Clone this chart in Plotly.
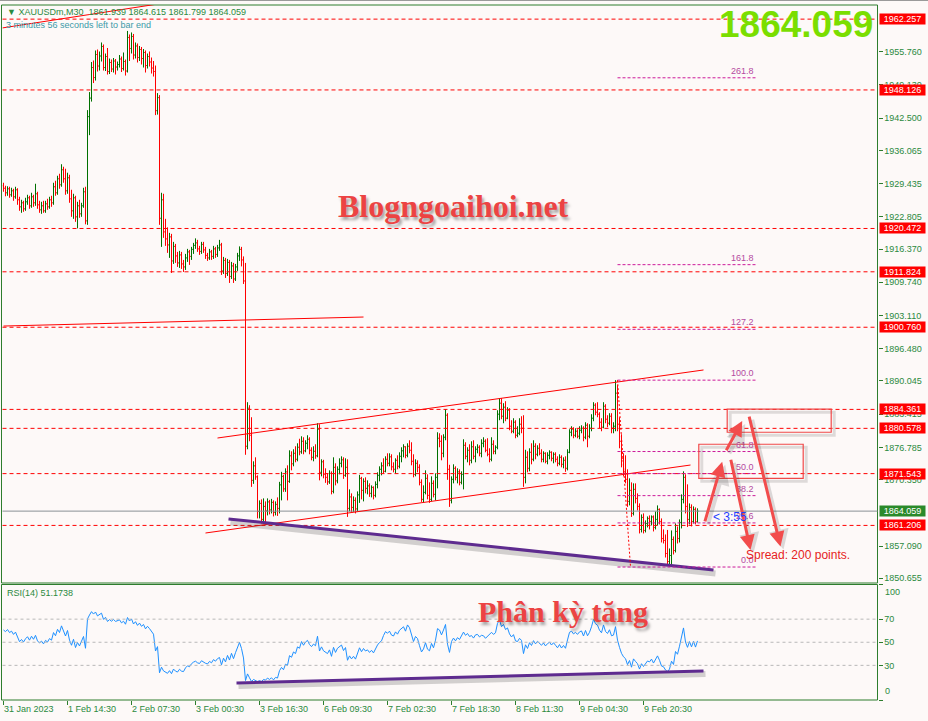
import plotly.graph_objects as go

# ---------------- data (XAUUSDm, M30) ----------------
opens = [
    1929.0, 1928.5, 1927.6, 1928.4, 1927.2, 1928.0, 1926.8, 1928.2, 1926.2, 1924.8,
    1925.6, 1924.4, 1925.8, 1926.6, 1925.0, 1926.8, 1925.6, 1927.4, 1925.2, 1924.2,
    1925.0, 1924.0, 1925.4, 1924.8, 1926.2, 1925.6, 1928.8, 1927.6, 1930.4, 1929.2,
    1932.2, 1930.4, 1928.0, 1930.6, 1926.4, 1924.0, 1926.6, 1922.8, 1925.0, 1923.4,
    1925.0, 1927.8, 1922.0, 1942.8, 1946.5, 1952.6, 1950.6, 1955.2, 1952.9, 1954.9,
    1956.8, 1952.6, 1954.8, 1951.8, 1953.6, 1952.3, 1953.9, 1952.7, 1953.2, 1954.3,
    1952.4, 1953.8, 1951.9, 1958.6, 1956.4, 1958.8, 1955.1, 1956.9, 1954.6, 1956.2,
    1954.4, 1955.6, 1953.0, 1954.8, 1953.7, 1952.5, 1951.8, 1944.0, 1946.6, 1922.5,
    1926.2, 1919.8, 1918.4, 1917.2, 1918.8, 1914.0, 1916.9, 1915.0, 1913.6, 1915.2,
    1913.4, 1912.8, 1914.6, 1915.8, 1914.9, 1916.3, 1917.1, 1917.6, 1916.4, 1915.9,
    1917.3, 1916.2, 1915.1, 1914.6, 1915.8, 1914.9, 1916.4, 1915.3, 1916.6, 1917.2,
    1912.0, 1914.1, 1911.5, 1913.7, 1910.9, 1913.0, 1910.4, 1912.8, 1915.0, 1916.3,
    1914.2, 1910.0, 1877.0, 1884.6, 1879.2, 1870.2, 1873.1, 1870.9, 1864.0, 1865.6,
    1862.4, 1865.0, 1864.1, 1865.9, 1864.3, 1865.8, 1863.8, 1865.4, 1864.6, 1869.3,
    1871.0, 1868.5, 1871.9, 1870.0, 1875.1, 1873.5, 1875.6, 1874.4, 1876.8, 1875.9,
    1878.0, 1876.1, 1877.6, 1878.4, 1876.2, 1874.8, 1876.0, 1875.1, 1880.4, 1871.8,
    1873.9, 1871.4, 1870.8, 1869.9, 1871.6, 1868.0, 1872.8, 1870.1, 1872.4, 1873.6,
    1874.3, 1871.2, 1872.8, 1864.6, 1866.9, 1864.8, 1866.2, 1864.5, 1867.3, 1870.6,
    1868.2, 1870.0, 1868.6, 1869.1, 1867.6, 1868.8, 1867.2, 1869.4, 1871.2, 1872.4,
    1873.1, 1872.0, 1874.4, 1873.6, 1874.9, 1872.9, 1872.4, 1874.2, 1873.0, 1875.0,
    1876.1, 1876.9, 1875.2, 1877.0, 1876.2, 1874.0, 1871.4, 1873.6, 1872.8, 1869.8,
    1866.4, 1867.8, 1870.6, 1867.2, 1866.4, 1869.6, 1867.4, 1870.8, 1878.6, 1878.0,
    1875.6, 1878.8, 1883.2, 1872.4, 1866.2, 1870.4, 1872.6, 1870.8, 1871.9, 1869.8,
    1871.4, 1877.2, 1875.0, 1876.2, 1874.2, 1876.9, 1875.0, 1876.4, 1876.8, 1875.6,
    1877.6, 1878.0, 1876.2, 1875.4, 1874.4, 1877.4, 1876.0, 1876.8, 1883.4, 1885.6,
    1883.0, 1884.8, 1882.6, 1884.2, 1881.0, 1880.0, 1881.8, 1879.2, 1879.6, 1881.4,
    1880.6, 1870.8, 1874.8, 1872.6, 1875.8, 1874.4, 1877.0, 1875.4, 1876.6, 1875.6,
    1874.4, 1875.6, 1874.0, 1875.2, 1875.8, 1874.6, 1875.4, 1874.4, 1873.6, 1874.8,
    1873.4, 1874.2, 1872.6, 1875.8, 1879.8, 1880.4, 1879.2, 1880.0, 1879.0, 1880.2,
    1880.6, 1878.8, 1881.2, 1879.0, 1880.6, 1882.6, 1885.2, 1883.8, 1883.4, 1881.8,
    1880.8, 1885.0, 1882.4, 1881.6, 1883.0, 1880.6, 1881.0, 1887.6, 1881.4, 1878.0,
    1874.6, 1872.0, 1870.4, 1866.0, 1868.2, 1863.6, 1868.4, 1866.6, 1865.0, 1860.4,
    1862.8, 1860.2, 1861.6, 1862.6, 1862.0, 1862.9, 1860.8, 1862.4, 1864.4, 1862.0,
    1858.6, 1858.2, 1855.6, 1854.0, 1855.2, 1858.4, 1856.2, 1860.0, 1858.6, 1861.8,
    1866.4, 1870.8, 1865.0, 1862.4, 1864.8, 1862.0, 1864.4, 1861.939,
]
highs = [
    1929.6, 1929.0, 1928.9, 1928.8, 1928.6, 1928.4, 1928.8, 1928.5, 1926.8, 1926.2,
    1926.0, 1926.6, 1927.2, 1927.0, 1927.6, 1927.2, 1929.4, 1927.8, 1926.0, 1925.8,
    1926.0, 1926.0, 1926.4, 1926.8, 1927.0, 1929.6, 1930.0, 1931.0, 1931.4, 1933.3,
    1932.8, 1932.4, 1931.6, 1931.2, 1928.2, 1927.4, 1927.0, 1925.8, 1926.2, 1925.6,
    1928.6, 1928.8, 1944.1, 1947.7, 1953.7, 1954.0, 1956.0, 1956.2, 1955.8, 1957.6,
    1957.2, 1955.4, 1956.5, 1954.4, 1954.2, 1954.5, 1954.3, 1953.8, 1955.1, 1954.8,
    1955.6, 1954.2, 1959.9, 1959.2, 1959.6, 1959.3, 1957.6, 1957.4, 1956.9, 1956.7,
    1956.3, 1956.0, 1955.4, 1955.8, 1954.6, 1953.9, 1953.0, 1947.5, 1947.1, 1927.6,
    1927.4, 1922.4, 1920.7, 1919.6, 1919.4, 1917.8, 1917.4, 1915.8, 1916.0, 1915.8,
    1914.2, 1915.4, 1916.4, 1916.2, 1916.8, 1917.6, 1918.5, 1918.2, 1917.0, 1917.8,
    1917.8, 1916.8, 1915.6, 1916.4, 1916.2, 1917.0, 1916.8, 1917.2, 1918.2, 1917.6,
    1914.8, 1914.6, 1914.4, 1914.2, 1913.8, 1913.6, 1913.4, 1915.6, 1916.9, 1916.8,
    1914.9, 1913.6, 1885.8, 1885.2, 1882.8, 1874.0, 1874.8, 1871.2, 1866.2, 1866.4,
    1866.6, 1866.0, 1866.6, 1866.3, 1866.5, 1866.2, 1866.0, 1866.8, 1869.9, 1871.9,
    1871.3, 1872.6, 1873.2, 1876.2, 1876.0, 1876.4, 1877.0, 1877.6, 1878.5, 1879.0,
    1878.8, 1878.2, 1879.2, 1878.8, 1876.8, 1877.0, 1877.4, 1881.6, 1881.4, 1874.4,
    1874.3, 1872.6, 1871.6, 1872.2, 1872.0, 1874.8, 1873.6, 1873.0, 1874.6, 1875.0,
    1874.8, 1874.6, 1874.4, 1868.4, 1867.6, 1867.0, 1866.8, 1868.0, 1871.3, 1870.9,
    1870.6, 1870.8, 1870.2, 1869.6, 1869.2, 1869.0, 1870.0, 1871.8, 1873.0, 1873.8,
    1874.6, 1875.0, 1875.6, 1875.6, 1875.4, 1873.8, 1874.6, 1875.2, 1875.8, 1876.8,
    1877.4, 1877.0, 1877.6, 1878.2, 1877.8, 1875.4, 1874.4, 1874.2, 1873.4, 1870.4,
    1869.2, 1872.2, 1871.4, 1869.8, 1871.0, 1870.2, 1871.6, 1879.8, 1879.6, 1879.2,
    1879.4, 1884.4, 1883.6, 1873.3, 1871.0, 1873.4, 1873.0, 1872.6, 1872.4, 1872.0,
    1878.4, 1877.8, 1876.8, 1877.4, 1878.0, 1878.2, 1877.0, 1877.4, 1877.2, 1878.4,
    1878.8, 1878.4, 1878.6, 1876.6, 1878.8, 1878.2, 1877.2, 1884.2, 1886.6, 1886.6,
    1885.6, 1886.0, 1884.8, 1884.6, 1882.2, 1882.6, 1882.2, 1881.0, 1882.6, 1883.0,
    1883.2, 1876.3, 1876.0, 1876.6, 1877.6, 1878.2, 1877.6, 1877.2, 1877.6, 1876.4,
    1876.0, 1875.8, 1875.8, 1876.2, 1876.0, 1875.8, 1875.8, 1875.0, 1875.4, 1875.2,
    1874.8, 1875.0, 1876.4, 1880.4, 1881.0, 1880.8, 1880.6, 1880.4, 1881.0, 1881.2,
    1881.0, 1881.8, 1881.6, 1881.4, 1883.4, 1885.8, 1885.6, 1885.8, 1883.8, 1882.6,
    1885.8, 1885.4, 1883.2, 1883.6, 1883.6, 1881.8, 1890.2, 1889.2, 1882.8, 1879.4,
    1875.6, 1875.2, 1872.4, 1870.6, 1869.8, 1869.6, 1869.6, 1867.6, 1865.6, 1863.4,
    1863.6, 1862.2, 1863.0, 1863.2, 1863.2, 1863.2, 1864.0, 1865.2, 1864.6, 1862.6,
    1860.4, 1859.4, 1860.3, 1856.6, 1860.2, 1859.0, 1861.6, 1861.0, 1862.4, 1867.4,
    1872.0, 1871.4, 1869.4, 1865.6, 1865.4, 1865.0, 1864.8, 1864.615,
]
lows = [
    1927.8, 1926.9, 1927.0, 1926.6, 1926.8, 1926.0, 1926.4, 1925.2, 1924.0, 1923.6,
    1923.8, 1924.0, 1925.2, 1924.4, 1924.6, 1924.8, 1925.0, 1924.4, 1923.6, 1923.4,
    1923.6, 1923.6, 1924.2, 1924.4, 1924.8, 1925.2, 1927.0, 1927.2, 1928.4, 1928.8,
    1929.6, 1927.2, 1927.4, 1925.6, 1922.8, 1922.4, 1921.8, 1920.5, 1922.6, 1922.8,
    1924.6, 1921.3, 1921.2, 1939.1, 1945.8, 1949.5, 1950.0, 1951.8, 1952.0, 1953.8,
    1952.0, 1951.9, 1951.2, 1951.3, 1951.7, 1951.6, 1951.2, 1952.0, 1952.6, 1951.7,
    1952.0, 1951.0, 1951.6, 1953.9, 1955.4, 1954.2, 1954.4, 1953.6, 1953.9, 1953.2,
    1952.6, 1951.6, 1952.4, 1952.8, 1951.4, 1950.8, 1943.1, 1943.2, 1921.2, 1916.8,
    1918.6, 1917.0, 1915.6, 1914.6, 1911.6, 1913.4, 1913.6, 1912.8, 1912.6, 1912.4,
    1911.8, 1912.2, 1913.8, 1913.2, 1914.2, 1915.4, 1916.4, 1915.8, 1915.2, 1915.4,
    1915.6, 1914.4, 1914.0, 1914.2, 1914.2, 1914.4, 1914.6, 1914.8, 1916.0, 1911.2,
    1911.4, 1910.6, 1911.0, 1909.6, 1910.4, 1909.6, 1910.0, 1912.0, 1914.0, 1912.9,
    1909.4, 1875.3, 1876.4, 1878.0, 1868.9, 1869.5, 1870.3, 1862.6, 1862.6, 1861.6,
    1861.6, 1861.8, 1863.2, 1863.4, 1863.6, 1863.0, 1863.2, 1863.1, 1863.6, 1866.2,
    1867.9, 1867.9, 1866.2, 1869.7, 1872.2, 1873.0, 1873.8, 1874.0, 1875.2, 1875.5,
    1875.4, 1875.8, 1876.4, 1875.4, 1874.2, 1874.0, 1874.5, 1874.8, 1870.2, 1871.0,
    1870.6, 1869.7, 1869.3, 1869.5, 1867.4, 1867.6, 1869.2, 1869.6, 1871.4, 1872.8,
    1870.5, 1870.9, 1862.9, 1864.0, 1863.8, 1863.9, 1863.6, 1864.0, 1865.7, 1866.4,
    1866.0, 1867.6, 1867.4, 1866.9, 1866.8, 1866.4, 1866.8, 1868.6, 1870.0, 1871.2,
    1871.6, 1871.8, 1873.0, 1873.0, 1872.2, 1871.8, 1871.6, 1872.4, 1872.6, 1873.8,
    1874.8, 1874.6, 1874.8, 1875.6, 1873.2, 1870.8, 1871.0, 1871.8, 1869.2, 1865.9,
    1865.7, 1867.4, 1866.4, 1865.7, 1866.0, 1866.8, 1866.2, 1868.6, 1876.8, 1874.2,
    1874.8, 1878.2, 1870.3, 1864.9, 1865.6, 1869.6, 1870.2, 1869.6, 1869.2, 1869.4,
    1868.4, 1874.4, 1873.8, 1873.2, 1873.6, 1874.4, 1873.8, 1875.6, 1875.0, 1874.8,
    1876.8, 1875.8, 1875.0, 1873.8, 1874.0, 1875.4, 1875.4, 1876.4, 1882.2, 1882.4,
    1881.6, 1882.0, 1882.4, 1880.2, 1879.6, 1879.6, 1878.6, 1878.8, 1879.2, 1879.6,
    1868.9, 1869.6, 1871.8, 1872.0, 1873.4, 1874.0, 1874.4, 1875.0, 1875.2, 1873.8,
    1873.8, 1873.6, 1873.4, 1874.4, 1874.0, 1873.6, 1873.8, 1873.0, 1873.2, 1872.8,
    1872.6, 1871.9, 1872.2, 1875.6, 1879.0, 1878.6, 1878.8, 1878.6, 1878.4, 1879.6,
    1878.0, 1878.4, 1876.8, 1878.6, 1880.0, 1882.0, 1883.2, 1882.8, 1880.6, 1880.0,
    1880.6, 1881.6, 1880.8, 1881.2, 1879.6, 1879.6, 1880.0, 1880.0, 1876.6, 1872.8,
    1871.0, 1869.6, 1864.9, 1865.2, 1862.9, 1863.2, 1865.6, 1864.2, 1859.6, 1859.8,
    1859.6, 1859.8, 1860.8, 1860.4, 1861.2, 1860.0, 1860.4, 1861.2, 1861.4, 1857.8,
    1857.6, 1854.8, 1853.2, 1853.0, 1852.9, 1855.4, 1855.8, 1857.6, 1857.8, 1860.6,
    1865.6, 1863.6, 1860.9, 1861.4, 1861.0, 1861.6, 1861.4, 1861.799,
]
closes = [
    1928.5, 1927.6, 1928.4, 1927.2, 1928.0, 1926.8, 1928.2, 1926.2, 1924.8, 1925.6,
    1924.4, 1925.8, 1926.6, 1925.0, 1926.8, 1925.6, 1927.4, 1925.2, 1924.2, 1925.0,
    1924.0, 1925.4, 1924.8, 1926.2, 1925.6, 1928.8, 1927.6, 1930.4, 1929.2, 1932.2,
    1930.4, 1928.0, 1930.6, 1926.4, 1924.0, 1926.6, 1922.8, 1925.0, 1923.4, 1925.0,
    1927.8, 1922.0, 1942.8, 1946.5, 1952.6, 1950.6, 1955.2, 1952.9, 1954.9, 1956.8,
    1952.6, 1954.8, 1951.8, 1953.6, 1952.3, 1953.9, 1952.7, 1953.2, 1954.3, 1952.4,
    1953.8, 1951.9, 1958.6, 1956.4, 1958.8, 1955.1, 1956.9, 1954.6, 1956.2, 1954.4,
    1955.6, 1953.0, 1954.8, 1953.7, 1952.5, 1951.8, 1944.0, 1946.6, 1922.5, 1926.2,
    1919.8, 1918.4, 1917.2, 1918.8, 1914.0, 1916.9, 1915.0, 1913.6, 1915.2, 1913.4,
    1912.8, 1914.6, 1915.8, 1914.9, 1916.3, 1917.1, 1917.6, 1916.4, 1915.9, 1917.3,
    1916.2, 1915.1, 1914.6, 1915.8, 1914.9, 1916.4, 1915.3, 1916.6, 1917.2, 1912.0,
    1914.1, 1911.5, 1913.7, 1910.9, 1913.0, 1910.4, 1912.8, 1915.0, 1916.3, 1914.2,
    1910.0, 1877.0, 1884.6, 1879.2, 1870.2, 1873.1, 1870.9, 1864.0, 1865.6, 1862.4,
    1865.0, 1864.1, 1865.9, 1864.3, 1865.8, 1863.8, 1865.4, 1864.6, 1869.3, 1871.0,
    1868.5, 1871.9, 1870.0, 1875.1, 1873.5, 1875.6, 1874.4, 1876.8, 1875.9, 1878.0,
    1876.1, 1877.6, 1878.4, 1876.2, 1874.8, 1876.0, 1875.1, 1880.4, 1871.8, 1873.9,
    1871.4, 1870.8, 1869.9, 1871.6, 1868.0, 1872.8, 1870.1, 1872.4, 1873.6, 1874.3,
    1871.2, 1872.8, 1864.6, 1866.9, 1864.8, 1866.2, 1864.5, 1867.3, 1870.6, 1868.2,
    1870.0, 1868.6, 1869.1, 1867.6, 1868.8, 1867.2, 1869.4, 1871.2, 1872.4, 1873.1,
    1872.0, 1874.4, 1873.6, 1874.9, 1872.9, 1872.4, 1874.2, 1873.0, 1875.0, 1876.1,
    1876.9, 1875.2, 1877.0, 1876.2, 1874.0, 1871.4, 1873.6, 1872.8, 1869.8, 1866.4,
    1867.8, 1870.6, 1867.2, 1866.4, 1869.6, 1867.4, 1870.8, 1878.6, 1878.0, 1875.6,
    1878.8, 1883.2, 1872.4, 1866.2, 1870.4, 1872.6, 1870.8, 1871.9, 1869.8, 1871.4,
    1877.2, 1875.0, 1876.2, 1874.2, 1876.9, 1875.0, 1876.4, 1876.8, 1875.6, 1877.6,
    1878.0, 1876.2, 1875.4, 1874.4, 1877.4, 1876.0, 1876.8, 1883.4, 1885.6, 1883.0,
    1884.8, 1882.6, 1884.2, 1881.0, 1880.0, 1881.8, 1879.2, 1879.6, 1881.4, 1880.6,
    1870.8, 1874.8, 1872.6, 1875.8, 1874.4, 1877.0, 1875.4, 1876.6, 1875.6, 1874.4,
    1875.6, 1874.0, 1875.2, 1875.8, 1874.6, 1875.4, 1874.4, 1873.6, 1874.8, 1873.4,
    1874.2, 1872.6, 1875.8, 1879.8, 1880.4, 1879.2, 1880.0, 1879.0, 1880.2, 1880.6,
    1878.8, 1881.2, 1879.0, 1880.6, 1882.6, 1885.2, 1883.8, 1883.4, 1881.8, 1880.8,
    1885.0, 1882.4, 1881.6, 1883.0, 1880.6, 1881.0, 1887.6, 1881.4, 1878.0, 1874.6,
    1872.0, 1870.4, 1866.0, 1868.2, 1863.6, 1868.4, 1866.6, 1865.0, 1860.4, 1862.8,
    1860.2, 1861.6, 1862.6, 1862.0, 1862.9, 1860.8, 1862.4, 1864.4, 1862.0, 1858.6,
    1858.2, 1855.6, 1854.0, 1855.2, 1858.4, 1856.2, 1860.0, 1858.6, 1861.8, 1866.4,
    1870.8, 1865.0, 1862.4, 1864.8, 1862.0, 1864.4, 1861.9, 1864.059,
]
rsi_values = [
    60.6, 59.2, 61.0, 58.4, 59.6, 56.8, 58.8, 54.6, 50.5, 52.4,
    50.2, 53.0, 54.8, 51.8, 55.2, 52.6, 56.0, 51.2, 49.4, 51.0,
    48.6, 51.6, 50.2, 53.2, 51.8, 58.4, 55.6, 61.2, 58.4, 64.2,
    60.4, 55.4, 60.2, 51.8, 47.4, 52.6, 45.4, 49.8, 46.8, 50.2,
    55.0, 44.8, 70.2, 73.6, 76.5, 74.4, 76.2, 72.8, 74.0, 75.2,
    69.8, 71.6, 68.0, 69.6, 68.2, 69.8, 68.0, 68.6, 69.4, 66.8,
    68.2, 65.6, 71.4, 68.4, 70.2, 65.8, 67.8, 64.6, 66.6, 63.8,
    65.4, 61.6, 63.8, 61.8, 59.4, 57.0, 42.4, 46.2, 23.6, 28.4,
    25.2, 24.0, 23.1, 25.4, 22.8, 26.8, 25.0, 24.2, 26.6, 25.0,
    24.6, 27.8, 29.6, 28.8, 31.4, 32.8, 33.6, 32.2, 31.6, 34.0,
    32.8, 31.8, 31.2, 33.4, 32.2, 35.0, 33.6, 35.8, 36.8, 30.4,
    36.2, 33.0, 38.6, 34.6, 40.4, 35.8, 41.0, 45.2, 49.9, 44.6,
    36.4, 16.8, 22.6, 19.2, 16.0, 17.8, 16.6, 15.9, 16.8, 15.9,
    17.8, 17.2, 19.0, 17.8, 19.2, 17.4, 19.6, 19.0, 25.4, 28.2,
    26.2, 31.0, 30.0, 38.4, 37.0, 41.6, 40.2, 46.0, 44.8, 50.6,
    47.4, 50.2, 51.6, 48.0, 46.2, 48.4, 47.0, 55.2, 42.4, 46.0,
    42.6, 41.6, 40.2, 43.4, 37.8, 45.6, 41.2, 44.8, 46.6, 47.6,
    42.8, 45.4, 34.4, 38.2, 35.6, 37.8, 35.4, 40.0, 45.2, 41.8,
    44.6, 42.4, 43.4, 41.2, 43.0, 40.8, 44.6, 47.6, 49.8, 51.2,
    55.8, 59.2, 57.8, 59.6, 56.2, 55.4, 59.0, 57.0, 60.4, 62.0,
    63.4, 59.6, 65.0, 62.6, 57.0, 50.6, 55.0, 53.2, 47.0, 41.6,
    44.2, 49.6, 44.0, 42.6, 49.0, 45.2, 51.8, 61.8, 60.6, 56.4,
    60.6, 65.4, 48.4, 41.2, 50.6, 53.6, 51.2, 54.0, 52.4, 56.2,
    58.8, 56.0, 57.6, 55.0, 55.8, 53.6, 56.4, 56.8, 54.6, 56.0,
    55.6, 53.4, 55.0, 57.4, 58.6, 56.8, 58.2, 66.4, 69.3, 63.5,
    65.4, 61.0, 62.4, 57.2, 54.6, 56.6, 51.2, 50.6, 53.4, 51.6,
    40.2, 47.8, 44.6, 49.6, 47.2, 51.4, 48.6, 50.8, 49.2, 47.4,
    49.4, 46.8, 48.8, 50.0, 47.6, 49.6, 47.4, 45.2, 48.0, 45.0,
    47.2, 44.8, 52.0, 58.6, 59.6, 57.2, 58.6, 56.8, 59.0, 59.8,
    55.4, 60.2, 55.6, 58.6, 63.4, 69.8, 66.0, 64.8, 60.4, 58.2,
    65.0, 59.4, 57.6, 60.8, 55.6, 56.2, 63.5, 51.8, 45.6, 40.4,
    37.4, 35.8, 30.6, 34.2, 28.4, 35.6, 33.4, 31.4, 26.8, 31.4,
    29.0, 31.8, 33.8, 33.0, 35.4, 32.0, 34.8, 38.2, 34.4, 29.4,
    28.8, 26.0, 24.5, 26.8, 33.6, 30.8, 42.0, 39.6, 46.6, 55.8,
    62.4, 50.2, 45.6, 50.6, 46.0, 50.8, 45.8, 51.17,
]
time_labels = ["31 Jan 2023", "1 Feb 14:30", "2 Feb 07:30", "3 Feb 00:30",
               "3 Feb 16:30", "6 Feb 09:30", "7 Feb 02:30", "7 Feb 18:30",
               "8 Feb 11:30", "9 Feb 04:30", "9 Feb 20:30"]
price_ticks = [1955.760, 1949.130, 1942.500, 1936.065, 1929.435, 1922.805,
               1916.370, 1909.740, 1903.110, 1896.480, 1890.045, 1883.415,
               1876.785, 1870.350, 1857.090, 1850.655]
level_prices = [1962.257, 1948.126, 1920.472, 1911.824, 1900.760,
                1884.361, 1880.578, 1871.543, 1861.206]
last_price = 1864.059
rsi_levels = [30, 50, 70]
fib_ratios = [0.0, 23.6, 38.2, 50.0, 61.8, 100.0, 127.2, 161.8, 261.8]
fib_low, fib_high = 1852.9, 1890.2

# ---------------- look ----------------
W, H = 928, 721
BG = "#fdf9f8"
FG = "#2b8a3e"
FRAME = "#2d7d2d"
RED = "#ff0000"
UP = "#007000"
FONT = "Liberation Sans, Arial, sans-serif"
SERIF = "Liberation Serif, Times New Roman, serif"


def px_x(p):
    return p / W


def px_y(p):
    return 1 - p / H


x_dom = [px_x(2.5), px_x(877.5)]
main_dom = [px_y(583), px_y(5)]
rsi_dom = [px_y(700), px_y(584.5)]
bars = list(range(len(closes)))
label_bars = [32 * k for k in range(len(time_labels))]

# MT4-style bars: high-low stick, open tick left, close tick right
up_x, up_y, dn_x, dn_y = [], [], [], []
for i, o, h, l, c in zip(bars, opens, highs, lows, closes):
    xs = [i, i, None, i - 0.5, i, None, i, i + 0.5, None]
    ys = [l, h, None, o, o, None, c, c, None]
    if c >= o:
        up_x += xs
        up_y += ys
    else:
        dn_x += xs
        dn_y += ys

fig = go.Figure()
fig.add_trace(go.Scatter(x=up_x, y=up_y, mode="lines", xaxis="x", yaxis="y",
                         line=dict(color=UP, width=1), hoverinfo="skip"))
fig.add_trace(go.Scatter(x=dn_x, y=dn_y, mode="lines", xaxis="x", yaxis="y",
                         line=dict(color=RED, width=1), hoverinfo="skip"))
fig.add_trace(go.Scatter(x=bars, y=rsi_values, mode="lines", xaxis="x", yaxis="y2",
                         line=dict(color="#1e90ff", width=1), hoverinfo="skip"))

shapes = []
# panel frames
for dom in (main_dom, rsi_dom):
    shapes.append(dict(type="rect", xref="paper", yref="paper",
                       x0=px_x(1.5), x1=px_x(877.5), y0=dom[0], y1=dom[1],
                       line=dict(color=FRAME, width=1), layer="above"))
shapes.append(dict(type="line", xref="paper", yref="paper", x0=0, x1=1,
                   y0=px_y(0.5), y1=px_y(0.5), line=dict(color="#9a9a9a", width=1)))

# horizontal levels
for p in level_prices:
    shapes.append(dict(type="line", xref="paper", yref="y", x0=x_dom[0], x1=x_dom[1],
                       y0=p, y1=p, line=dict(color=RED, width=1, dash="4px,3px")))
shapes.append(dict(type="line", xref="paper", yref="y", x0=x_dom[0], x1=x_dom[1],
                   y0=last_price, y1=last_price, line=dict(color="#8a9096", width=1)))
for lv in rsi_levels:
    shapes.append(dict(type="line", xref="paper", yref="y2", x0=x_dom[0], x1=x_dom[1],
                       y0=lv, y1=lv, line=dict(color="#b8b8b8", width=1, dash="3px,3px")))

# red trend lines / channel
for x0, y0, x1, y1 in [(107, 1878.65, 350, 1892.23), (101, 1859.69, 343.5, 1873.26),
                       (0, 1901.0, 180, 1902.8), (-0.6, 1960.5, 77.5, 1965.3)]:
    shapes.append(dict(type="line", xref="x", yref="y", x0=x0, y0=y0, x1=x1, y1=y1,
                       line=dict(color=RED, width=1)))

# purple divergence lines with soft shadow
shapes.append(dict(type="line", xref="x", yref="y", x0=113.5, y0=1861.8, x1=356, y1=1851.6,
                   line=dict(color="rgba(60,60,60,0.22)", width=6)))
shapes.append(dict(type="line", xref="x", yref="y", x0=112.5, y0=1862.5, x1=355, y1=1852.3,
                   line=dict(color="#5e2b8f", width=3)))
shapes.append(dict(type="line", xref="x", yref="y2", x0=117.5, y0=12.2, x1=351, y1=22.5,
                   line=dict(color="rgba(60,60,60,0.22)", width=6)))
shapes.append(dict(type="line", xref="x", yref="y2", x0=116.5, y0=14.7, x1=350, y1=25.1,
                   line=dict(color="#5e2b8f", width=3)))

# fibonacci levels
fib_color = "#cc1a9a"
for r in fib_ratios:
    p = fib_low + (fib_high - fib_low) * r / 100
    shapes.append(dict(type="line", xref="x", yref="y", x0=307, x1=376.5, y0=p, y1=p,
                       line=dict(color=fib_color, width=1, dash="3px,2px")))
shapes.append(dict(type="line", xref="x", yref="y", x0=307, y0=fib_high, x1=313.5, y1=fib_low,
                   line=dict(color=RED, width=1, dash="2px,2px")))

# target boxes with shadow
for x0, x1, y0, y1 in [(361.85, 413.85, 1879.8, 1884.4), (347.65, 399.85, 1870.6, 1877.4)]:
    shapes.append(dict(type="rect", xref="x", yref="y", x0=x0 + 1.5, x1=x1 + 1.5,
                       y0=y0 - 0.6, y1=y1 - 0.6, line=dict(color="rgba(0,0,0,0.12)", width=3)))
    shapes.append(dict(type="rect", xref="x", yref="y", x0=x0, x1=x1, y0=y0, y1=y1,
                       line=dict(color="#f04848", width=1.2)))

ann = []
# price axis labels for levels
for p in level_prices:
    ann.append(dict(xref="paper", yref="y", x=px_x(878.5), y=p, xanchor="left",
                    yanchor="middle", text=f"{p:.3f}", showarrow=False, bgcolor=RED,
                    width=44, height=9, borderpad=0.5,
                    font=dict(family=FONT, size=9, color="white")))
ann.append(dict(xref="paper", yref="y", x=px_x(878.5), y=last_price, xanchor="left",
                yanchor="middle", text=f"{last_price:.3f}", showarrow=False,
                bgcolor="#2a8a2a", width=44, height=9, borderpad=0.5,
                font=dict(family=FONT, size=9, color="white")))

# fib labels
for r in fib_ratios:
    p = fib_low + (fib_high - fib_low) * r / 100
    ann.append(dict(xref="x", yref="y", x=376, y=p, xanchor="right", yanchor="bottom",
                    text=f"{r:.1f}", showarrow=False,
                    font=dict(family=FONT, size=9, color="#b44aa0")))

# arrows with shadows
arrows = [((350.5, 1861.7), (359.35, 1873.9)), ((361.0, 1875.9), (369.35, 1882.05)),
          ((363.5, 1874.6), (373.5, 1856.3)), ((372.65, 1883.2), (388.5, 1857.0))]
for (tx, ty), (hx, hy) in arrows:
    ann.append(dict(xref="x", yref="y", axref="x", ayref="y", x=hx + 1.5, y=hy - 0.6,
                    ax=tx + 1.5, ay=ty - 0.6, text="", showarrow=True, arrowhead=2,
                    arrowsize=1, arrowwidth=4, arrowcolor="rgba(0,0,0,0.13)"))
for (tx, ty), (hx, hy) in arrows:
    ann.append(dict(xref="x", yref="y", axref="x", ayref="y", x=hx, y=hy, ax=tx, ay=ty,
                    text="", showarrow=True, arrowhead=2, arrowsize=1, arrowwidth=3,
                    arrowcolor="#f24c4c"))

ann.append(dict(xref="x", yref="y", x=370, y=1855.3, xanchor="left", yanchor="middle",
                showarrow=False, text="Spread: 200 points.",
                font=dict(family=FONT, size=12, color="#e62222")))
ann.append(dict(xref="x", yref="y", x=353.5, y=1862.9, xanchor="left", yanchor="middle",
                showarrow=False, text="&lt; 3:55",
                font=dict(family=FONT, size=12, color="#1f3fff")))

# header texts
ann.append(dict(xref="paper", yref="paper", x=px_x(5), y=px_y(12), xanchor="left",
                yanchor="middle", showarrow=False,
                text="▼ XAUUSDm,M30  1861.939 1864.615 1861.799 1864.059",
                font=dict(family=FONT, size=9, color=FG)))
ann.append(dict(xref="paper", yref="paper", x=px_x(4), y=px_y(25), xanchor="left",
                yanchor="middle", showarrow=False,
                text="3 minutes 56 seconds left to bar end",
                font=dict(family=FONT, size=9, color="#3c9aa8")))
ann.append(dict(xref="paper", yref="paper", x=px_x(875), y=px_y(25), xanchor="right",
                yanchor="middle", showarrow=False, text=f"<b>{last_price:.3f}</b>",
                font=dict(family=FONT, size=37, color="#7ade00")))
ann.append(dict(xref="paper", yref="paper", x=px_x(5), y=px_y(593), xanchor="left",
                yanchor="middle", showarrow=False, text="RSI(14) 51.1738",
                font=dict(family=FONT, size=9, color=FG)))
for txt, yy in [("100", 592), ("0", 691)]:
    ann.append(dict(xref="paper", yref="paper", x=px_x(883), y=px_y(yy), xanchor="left",
                    yanchor="middle", showarrow=False, text=txt,
                    font=dict(family=FONT, size=9, color=FG)))

# watermark + divergence caption
shadow = "2px 3px 3px rgba(0,0,0,0.35)"
ann.append(dict(xref="paper", yref="paper", x=px_x(453), y=px_y(206), xanchor="center",
                yanchor="middle", showarrow=False, text="<b>Blogngoaihoi.net</b>",
                font=dict(family=SERIF, size=32, color="#ec4343", shadow=shadow)))
ann.append(dict(xref="paper", yref="paper", x=px_x(563), y=px_y(611), xanchor="center",
                yanchor="middle", showarrow=False, text="<b>Phân kỳ tăng</b>",
                font=dict(family=SERIF, size=30, color="#ec4343", shadow=shadow)))

fig.update_layout(
    width=W, height=H, margin=dict(l=0, r=0, t=0, b=0),
    paper_bgcolor=BG, plot_bgcolor=BG, showlegend=False, hovermode=False,
    shapes=shapes, annotations=ann,
    xaxis=dict(domain=x_dom, range=[-0.5, 437], anchor="y2", showgrid=False,
               zeroline=False, showline=False,
               tickmode="array", tickvals=label_bars, ticktext=time_labels,
               ticks="outside", ticklen=4, tickcolor=FRAME,
               ticklabelposition="outside right",
               tickfont=dict(family=FONT, size=9, color=FG)),
    yaxis=dict(domain=main_dom, range=[1849.71, 1965.08], anchor="x", side="right",
               showgrid=False, zeroline=False, showline=False,
               tickmode="array", tickvals=price_ticks,
               ticktext=[f"{v:.3f}" for v in price_ticks],
               ticks="outside", ticklen=4, tickcolor=FRAME,
               tickfont=dict(family=FONT, size=9, color=FG)),
    yaxis2=dict(domain=rsi_dom, range=[0, 100], anchor="x", side="right",
                showgrid=False, zeroline=False, showline=False,
                tickmode="array", tickvals=[0, 30, 50, 70, 100],
                ticktext=["", "30", "50", "70", ""],
                ticks="outside", ticklen=4, tickcolor=FRAME,
                tickfont=dict(family=FONT, size=9, color=FG)),
)

# the page body has a default margin; drop it so the figure sits at the top-left corner
fig.write_html("out.html", config={"displayModeBar": False},
               post_script="document.body.style.margin='0';")
